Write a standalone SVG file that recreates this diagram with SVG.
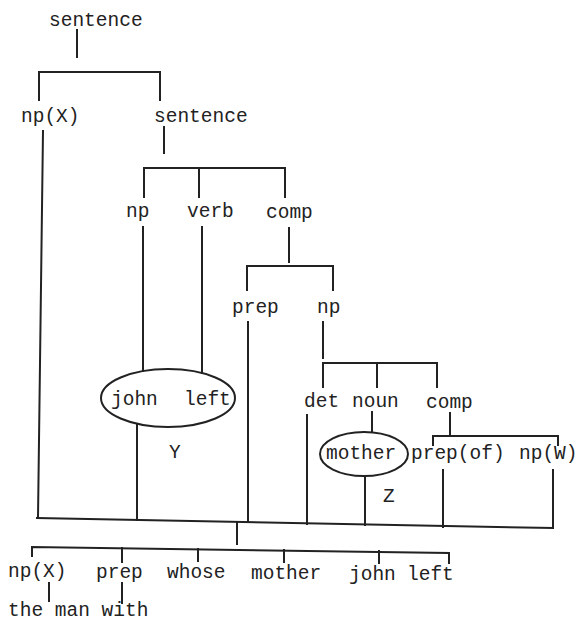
<svg xmlns="http://www.w3.org/2000/svg" width="577" height="624" viewBox="0 0 577 624">
<style>
text{font-family:"Liberation Mono","DejaVu Sans Mono",monospace;font-size:19.5px;fill:#222}
.l{stroke:#222;stroke-width:2;fill:none;stroke-linecap:square}
.e{stroke:#222;stroke-width:2;fill:none}
</style>
<rect width="577" height="624" fill="#fff"/>
<g id="connectors" class="l">
<path d="M77 30V57"/>
<path d="M39 100V72H160V100"/>
<path d="M43 131L38 518"/>
<path d="M164 127V153"/>
<path d="M144 197V168H285V197M199 168V197"/>
<path d="M143 227V371"/>
<path d="M202 227V373"/>
<path d="M289 228V262"/>
<path d="M247 290V266H333V290"/>
<path d="M248 322V522"/>
<path d="M323 322V358"/>
<path d="M323 387V363H437V387M377 363V387"/>
<path d="M137 425V520"/>
<path d="M307 415V524"/>
<path d="M372 412V432"/>
<path d="M365 477V525"/>
<path d="M450 413V436"/>
<path d="M433 445V436H558V445"/>
<path d="M443 470V527"/>
<path d="M553 470V528"/>
<path d="M37 518L553 528"/>
<path d="M237 523V544"/>
<path d="M32 556V547L449 553V563"/>
<path d="M122 548V562"/>
<path d="M198 549V561"/>
<path d="M284 550V562"/>
<path d="M379 551V563"/>
<path d="M49 583V601"/>
<path d="M122 583V603"/>
</g>
<g id="n-sentence-top"><text x="49" y="26">sentence</text></g>
<g id="n-npX"><text x="21" y="122">np(X)</text></g>
<g id="n-sentence2"><text x="154" y="122">sentence</text></g>
<g id="n-np1"><text x="126" y="217">np</text></g>
<g id="n-verb"><text x="187" y="217">verb</text></g>
<g id="n-comp1"><text x="266" y="218">comp</text></g>
<g id="n-prep1"><text x="232" y="313">prep</text></g>
<g id="n-np2"><text x="317" y="313">np</text></g>
<g id="n-johnleft"><ellipse class="e" cx="168" cy="398" rx="67" ry="29"/><text x="111" y="405">john</text><text x="184" y="405">left</text></g>
<g id="n-Y"><text x="169" y="458">Y</text></g>
<g id="n-det"><text x="304" y="407">det</text></g>
<g id="n-noun"><text x="352" y="407">noun</text></g>
<g id="n-comp2"><text x="426" y="408">comp</text></g>
<g id="n-mother"><ellipse class="e" cx="364" cy="454" rx="44" ry="22"/><text x="326" y="459">mother</text></g>
<g id="n-prepof"><text x="411" y="459">prep(of)</text></g>
<g id="n-npW"><text x="519" y="459">np(W)</text></g>
<g id="n-Z"><text x="383" y="502">Z</text></g>
<g id="n-b-npX"><text x="8" y="577">np(X)</text></g>
<g id="n-b-prep"><text x="96" y="578">prep</text></g>
<g id="n-b-whose"><text x="167" y="578">whose</text></g>
<g id="n-b-mother"><text x="251" y="579">mother</text></g>
<g id="n-b-john"><text x="349" y="580">john</text></g>
<g id="n-b-left"><text x="407" y="580">left</text></g>
<g id="n-theman"><text x="8" y="616">the man with</text></g>
</svg>
